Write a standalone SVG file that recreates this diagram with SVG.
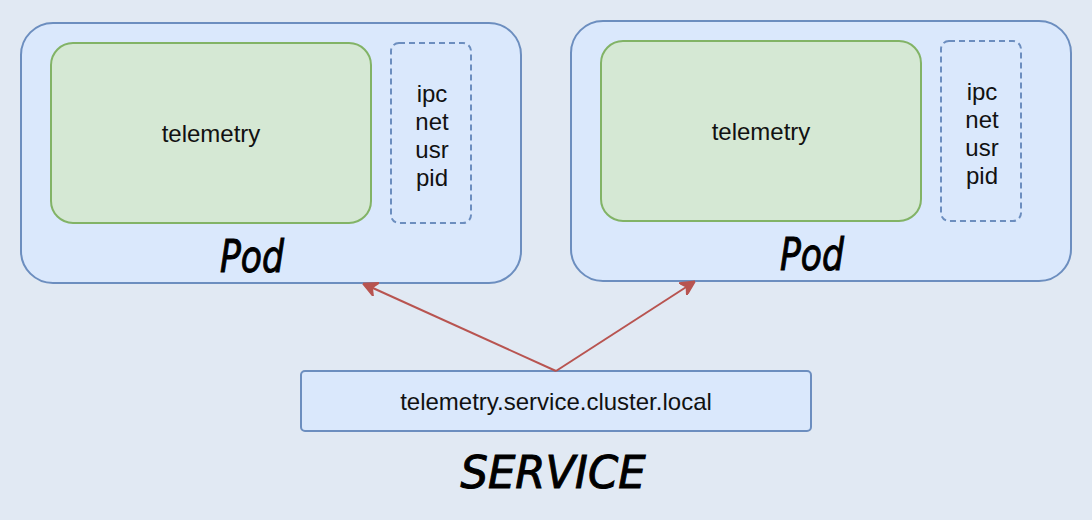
<svg xmlns="http://www.w3.org/2000/svg" width="1092" height="520" viewBox="0 0 1092 520">
<defs>
<style>
.pod{fill:#dae8fc;stroke:#6c8ebf;stroke-width:2}
.app{fill:#d5e8d4;stroke:#82b366;stroke-width:2}
.ns{fill:none;stroke:#6c8ebf;stroke-width:2;stroke-dasharray:6 4}
.t{font-family:"Liberation Sans",Arial,sans-serif;font-size:24px;fill:#111;text-anchor:middle}
.h{font-family:"DejaVu Sans",sans-serif;font-style:italic;font-size:44px;fill:#000;stroke:#000;stroke-width:1;text-anchor:middle}
.edge{fill:none;stroke:#b85450;stroke-width:2}
</style>
<marker id="arr" viewBox="0 0 10 10" refX="9" refY="5" markerWidth="15" markerHeight="15" markerUnits="userSpaceOnUse" orient="auto">
<path d="M0,0 L10,5 L0,10 L3,5 Z" fill="#b85450" stroke="#b85450" stroke-width="1"/>
</marker>
</defs>
<rect width="1092" height="520" fill="#e1e9f3"/>
<g id="pod1">
<rect class="pod" x="21" y="23" width="500" height="260" rx="32"/>
<rect class="app" x="51" y="43" width="320" height="180" rx="22"/>
<text class="t" x="211" y="142">telemetry</text>
<rect class="ns" x="391" y="43" width="80" height="180" rx="8"/>
<text class="t" x="432" y="102">ipc</text>
<text class="t" x="432" y="130">net</text>
<text class="t" x="432" y="158">usr</text>
<text class="t" x="432" y="186">pid</text>
<text class="h" x="252" y="272" textLength="64" lengthAdjust="spacingAndGlyphs">Pod</text>
</g>
<g id="pod2">
<rect class="pod" x="571" y="21" width="500" height="260" rx="32"/>
<rect class="app" x="601" y="41" width="320" height="180" rx="22"/>
<text class="t" x="761" y="140">telemetry</text>
<rect class="ns" x="941" y="41" width="80" height="180" rx="8"/>
<text class="t" x="982" y="100">ipc</text>
<text class="t" x="982" y="128">net</text>
<text class="t" x="982" y="156">usr</text>
<text class="t" x="982" y="184">pid</text>
<text class="h" x="812" y="270" textLength="64" lengthAdjust="spacingAndGlyphs">Pod</text>
</g>
<g id="service">
<rect class="pod" x="301" y="371" width="510" height="60" rx="4"/>
<text class="t" x="556" y="410">telemetry.service.cluster.local</text>
<text class="h" x="553" y="488" font-size="56" textLength="185" lengthAdjust="spacingAndGlyphs">SERVICE</text>
</g>
<g id="connectors">
<path class="edge" d="M556,371 L364,284" marker-end="url(#arr)"/>
<path class="edge" d="M556,371 L694,282" marker-end="url(#arr)"/>
</g>
</svg>
